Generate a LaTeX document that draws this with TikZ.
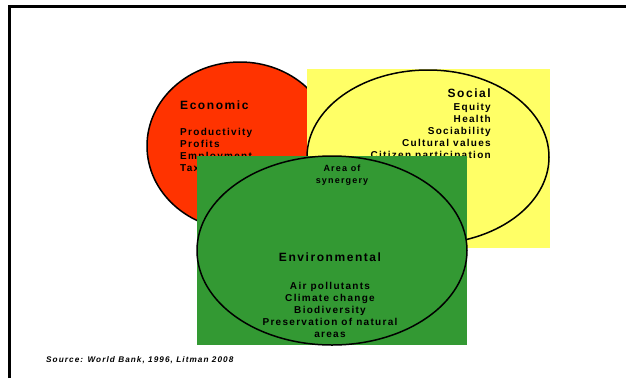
\documentclass[tikz,border=0pt]{standalone}
\usepackage{fontspec}
\setmainfont{Liberation Sans}
\usetikzlibrary{shapes.geometric}
\definecolor{econ}{RGB}{255,51,0}
\definecolor{soci}{RGB}{255,255,102}
\definecolor{envi}{RGB}{51,153,51}
\tikzset{ring/.style = {shape=ellipse,draw,line width=1.5pt,inner sep=0pt}}
\tikzset{patch/.style = {shape=rectangle,inner sep=0pt,anchor=north west}}
\tikzset{head/.style = {font=\fontsize{12}{14}\selectfont\bfseries\addfontfeature{LetterSpace=13},inner sep=0pt}}
\tikzset{item/.style = {font=\fontsize{10}{12}\selectfont\bfseries\addfontfeature{LetterSpace=13},inner sep=0pt}}
\tikzset{small/.style = {font=\fontsize{9}{11.3}\selectfont\bfseries\addfontfeature{LetterSpace=13},inner sep=0pt}}

\begin{document}
\begin{tikzpicture}[x=1pt,y=-1pt]
\useasboundingbox (0,0) rectangle (626,378);
% frame
\draw[line width=3pt] (9,378) -- (9,6) -- (626,6);
% economic
\node[ring, fill=econ, minimum width=186pt, minimum height=168pt] (eco) at (240,146) {};
% social
\node[patch, fill=soci, minimum width=243pt, minimum height=179pt] (socbg) at (307,69) {};
\node[ring, minimum width=242pt, minimum height=174pt] (soc) at (428,157) {};
% labels (base = last line)
\node[head, anchor=base west] (ecot) at (180,109) {Economic};
\node[item, anchor=base west, align=left] (ecoi) at (180,171.3) {Productivity\\Profits\\Employment\\Taxes};
\node[head, anchor=base east] (soct) at (491,97.3) {Social};
\node[item, anchor=base east, align=right] (socl) at (491,158) {Equity\\Health\\Sociability\\Cultural values\\Citizen participation};
% environmental
\node[patch, fill=envi, minimum width=270pt, minimum height=189pt] (envbg) at (197,156) {};
\node[ring, minimum width=270pt, minimum height=189pt] (env) at (332,250.5) {};
\node[small, anchor=base, align=center] (syn) at (342,183) {Area of\\synergery};
\node[head, anchor=base] (envt) at (330,261) {Environmental};
\node[item, anchor=base, align=center] (envi) at (330,337) {Air pollutants\\Climate change\\Biodiversity\\Preservation of natural\\areas};
% source
\node[font=\fontsize{8.2}{10}\selectfont\bfseries\itshape\addfontfeature{LetterSpace=13}, anchor=base west, inner sep=0pt] (src) at (46,362.5) {Source: World Bank, 1996, Litman 2008};
\end{tikzpicture}
\end{document}
